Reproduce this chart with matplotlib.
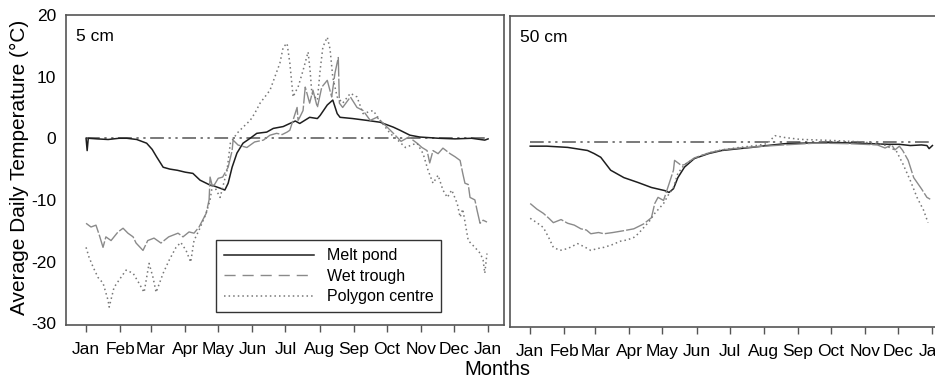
import numpy as np
import matplotlib.pyplot as plt

plt.rcParams['font.family'] = ['Liberation Sans', 'DejaVu Sans']

months = ['Jan', 'Feb', 'Mar', 'Apr', 'May', 'Jun', 'Jul', 'Aug', 'Sep', 'Oct', 'Nov', 'Dec', 'Jan']
month_days = [0, 31, 59, 90, 120, 151, 181, 212, 243, 273, 304, 334, 365]

# 5 cm depth
pond5_day = [0, 1, 2, 10, 20, 30, 37, 46, 55, 60, 64, 70, 76, 83, 90, 97, 103.5, 112.6, 117, 121.7, 126,
             129, 132.6, 137, 142.5, 149, 155, 164, 170, 179, 185, 190, 194, 203, 210, 212.5, 219, 224,
             228, 230.6, 242, 255, 267, 279, 285, 294, 303, 320, 335, 350, 362, 365]
pond5_val = [0, -2.0, 0, -0.1, -0.2, 0, 0, -0.2, -0.8, -1.8, -3.0, -4.7, -5.0, -5.2, -5.5, -5.7, -6.8, -7.6,
             -7.8, -8.1, -8.4, -7.3, -4.7, -2.4, -0.8, 0, 0.8, 1.0, 1.6, 1.9, 2.4, 2.8, 2.4, 3.4, 3.2, 3.7,
             5.4, 6.2, 4.0, 3.4, 3.2, 2.9, 2.6, 1.8, 1.3, 0.5, 0.2, 0, -0.1, 0, -0.3, -0.1]

trough5_day = [0, 4.5, 9, 12, 15.4, 18, 22.7, 29, 33.6, 38, 42.7, 45.4, 51.7, 56, 61.7, 68, 75, 83.5, 88,
               93.5, 98, 102.6, 109, 111.7, 112.6, 115, 120, 124, 129, 132.6, 133.5, 138, 146, 153, 161,
               167, 173, 178, 182.5, 185, 191.6, 192.5, 194, 197, 199, 203, 206, 210, 214, 219, 223, 226,
               229, 230, 233, 240, 246, 251.5, 258, 264, 270, 279, 286, 293, 300.5, 305, 309.6, 312, 315,
               319.6, 324, 330.5, 335, 339.6, 342, 344, 347, 348.6, 353, 355, 357.7, 360.5, 364]
trough5_val = [-13.8, -14.4, -14.1, -15.7, -17.7, -16.0, -16.6, -15.2, -14.6, -15.4, -16.0, -17.0, -18.2,
               -16.6, -16.2, -17.0, -16.0, -15.4, -16.0, -15.2, -15.4, -14.4, -12.2, -10.0, -6.3, -8.0,
               -6.5, -6.3, -4.7, -2.0, -0.3, -1.1, -1.5, -0.6, -0.3, 0.5, 0.8, 0.6, 1.0, 1.3, 5.0, 2.9,
               3.4, 4.5, 8.3, 5.7, 7.8, 5.0, 8.3, 9.4, 6.7, 10.6, 13.1, 5.7, 5.0, 6.7, 5.0, 4.5, 2.9, 3.4,
               2.4, 0.8, -0.5, 0.2, -0.8, -1.5, -2.0, -4.0, -2.0, -2.5, -1.6, -2.5, -3.0, -3.6, -5.7, -7.3,
               -7.5, -9.6, -10.0, -11.7, -13.8, -13.3, -13.6]

poly5_day = [0, 2.7, 6.4, 10.9, 15.4, 20, 21, 25.4, 30, 36.3, 42.7, 48, 52.7, 57.2, 60.8, 63.6, 70, 75.4,
             81.7, 86, 90.8, 95, 98, 102.6, 109, 112.6, 115, 121.7, 128, 131, 137, 142.5, 149, 153, 158,
             167, 176, 179, 182.5, 185, 188, 190, 192.5, 197, 201.6, 203.4, 205, 210, 212.5, 215, 219,
             221.5, 224, 228, 233, 240, 246, 251.5, 260.6, 267, 276, 283, 290, 297, 300.5, 306, 310.5,
             315, 319.6, 324, 328, 332, 337, 339.6, 342, 347, 353, 358, 360.5, 362, 364]
poly5_val = [-17.7, -19.3, -20.9, -22.6, -23.5, -26.3, -27.4, -24.2, -23.0, -21.4, -21.9, -23.5, -25.0,
             -20.3, -22.6, -25.0, -21.9, -19.8, -17.7, -16.9, -18.2, -20.1, -16.6, -14.9, -12.2, -10.0,
             -7.3, -9.6, -5.2, -0.8, 0.8, 1.8, 2.9, 4.0, 5.7, 7.8, 12.2, 14.8, 15.4, 12.2, 6.7, 7.5, 8.3,
             11.0, 14.0, 11.0, 7.3, 6.2, 11.0, 14.8, 16.4, 14.5, 9.9, 6.7, 5.7, 7.3, 6.7, 4.0, 4.5, 2.9,
             0.8, -0.3, -1.5, -1.0, -0.8, -2.5, -5.2, -7.3, -6.0, -8.4, -9.6, -8.4, -10.6, -12.8, -11.5,
             -16.6, -17.7, -18.7, -19.8, -21.9, -18.7]

# 50 cm depth
pond50_day = [0, 15, 34, 52, 58, 64, 73, 85, 98, 110, 122, 126, 130, 134, 140, 149, 162, 174, 190, 201,
              215, 231, 250, 277, 308, 325, 335, 345, 355, 360, 362, 365]
pond50_val = [-0.6, -0.6, -0.8, -1.3, -1.8, -2.4, -4.5, -5.7, -6.5, -7.3, -7.8, -8.1, -7.5, -5.7, -4.0,
              -2.6, -1.8, -1.3, -1.0, -0.8, -0.5, -0.2, -0.1, 0, -0.2, -0.3, -0.3, -0.5, -0.4, -0.5, -1.0,
              -0.5]

trough50_day = [0, 6, 12, 17, 21, 28, 34, 40, 46, 51, 55, 62, 67, 75, 85, 94, 103, 110, 113, 116, 121,
                126, 130, 131, 134, 137, 140, 149, 162, 174, 190, 205, 230, 260, 290, 315, 322, 328, 331,
                335, 338, 343, 348, 355, 360, 363]
trough50_val = [-9.9, -10.8, -11.5, -12.3, -13.0, -12.5, -13.1, -13.4, -14.0, -14.2, -14.8, -14.6, -14.8,
                -14.6, -14.3, -14.0, -13.2, -12.2, -9.9, -8.9, -9.4, -6.7, -4.5, -2.9, -3.3, -3.7, -3.6,
                -2.5, -1.7, -1.2, -0.9, -0.7, -0.4, -0.1, -0.2, -0.4, -0.9, -0.4, -1.2, -0.6, -1.3, -2.9,
                -5.7, -7.5, -8.9, -9.2]

poly50_day = [0, 6, 12, 17, 21, 27, 34, 43, 49, 55, 61, 67, 74, 82, 88, 94, 98, 103, 108, 113, 121, 125,
              130, 134, 140, 150, 162, 174, 190, 205, 215, 222, 231, 245, 277, 300, 320, 332, 338, 345,
              351, 357, 361]
poly50_val = [-12.3, -13.0, -13.8, -15.5, -17.0, -17.5, -17.2, -16.4, -16.9, -17.5, -17.2, -17.0, -16.6,
              -16.0, -15.8, -15.4, -14.8, -13.8, -12.8, -11.5, -9.9, -8.6, -7.3, -5.0, -3.6, -2.5, -1.7,
              -1.2, -0.8, -0.5, -0.2, 1.1, 0.8, 0.5, 0.3, 0.1, -0.3, -1.3, -3.4, -6.2, -8.9, -11.0, -13.0]

fig = plt.figure(figsize=(9.35, 3.81), dpi=100)
ax1 = fig.add_axes([0.0706, 0.147, 0.4685, 0.8136])
ax2 = fig.add_axes([0.5455, 0.142, 0.46, 0.816])

frame_col = '#555555'
pond_kw = dict(color='#1e1e1e', lw=1.1)
trough_kw = dict(color='#8a8a8a', lw=1.0, dashes=[14, 1.5])
poly_kw = dict(color='#777777', lw=1.1, ls=(0, (1, 2)))

for ax, dep, ylim, xlim in [(ax1, '5 cm', (-30.3, 20), (-18.2, 379.5)),
                            (ax2, '50 cm', (-29.9, 20.5), (-18.3, 372))]:
    ax.plot([0, 365], [0, 0], color='#555555', lw=1.1, dashes=[9, 3, 1.5, 3, 1.5, 3])
    ax.set_xlim(*xlim)
    ax.set_ylim(*ylim)
    ax.set_xticks(month_days)
    ax.set_xticklabels(months, fontsize=12.5)
    ax.tick_params(axis='x', direction='out', length=5, width=1, color='#555555', pad=7)
    for s in ax.spines.values():
        s.set_color(frame_col)
        s.set_linewidth(1.2)
    ax.text(0.022, 0.955, dep, transform=ax.transAxes, fontsize=12.5, va='top', ha='left')

l1, = ax1.plot(pond5_day, pond5_val, **pond_kw)
ax1.plot(trough5_day, trough5_val, **trough_kw)
l3, = ax1.plot(poly5_day, poly5_val, **poly_kw)
ax1.set_yticks([-30, -20, -10, 0, 10, 20])
ax1.set_yticklabels(['-30', '-20', '-10', '0', '10', '20'], fontsize=12.5)
ax1.tick_params(axis='y', length=0, pad=7)

ax2.plot(pond50_day, pond50_val, **pond_kw)
ax2.plot(trough50_day, trough50_val, **trough_kw)
ax2.plot(poly50_day, poly50_val, **poly_kw)
ax2.set_yticks([])
ax2.spines['right'].set_visible(False)

h2 = plt.Line2D([], [], color='#8a8a8a', lw=1.0, dashes=[8, 5])
leg = ax1.legend([l1, h2, l3], ['Melt pond', 'Wet trough', 'Polygon centre'],
                 loc='lower left', bbox_to_anchor=(0.325, 0.015), fontsize=11.5, handlelength=5.6,
                 handletextpad=0.8, fancybox=False, framealpha=1, edgecolor='#333333',
                 borderpad=0.5, labelspacing=0.35)
leg.get_frame().set_linewidth(1.0)

fig.text(0.532, 0.03, 'Months', fontsize=14.5, ha='center', va='center')
fig.text(0.021, 0.56, 'Average Daily Temperature (°C)', fontsize=15, rotation=90, ha='center', va='center')

fig.savefig('out.png', dpi=100)
